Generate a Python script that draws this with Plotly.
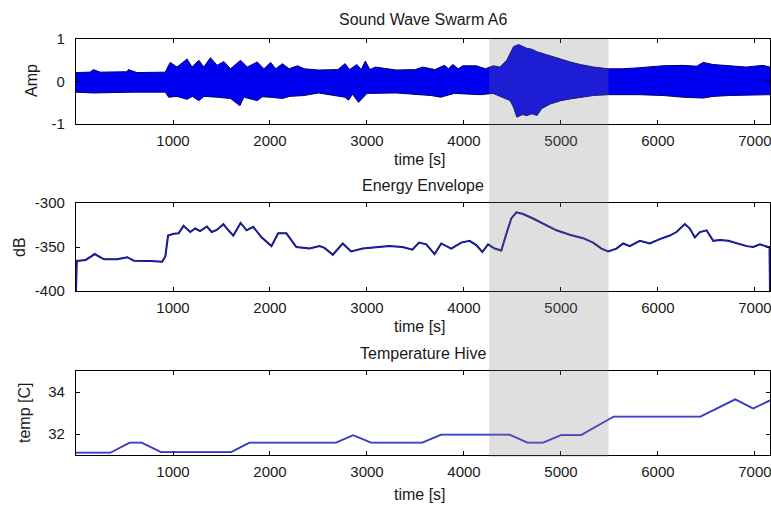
import plotly.graph_objects as go
from plotly.subplots import make_subplots

# ---------------- data ----------------
# Sound wave: upper / lower amplitude envelope
wave_upper_t = [0, 145, 179, 248, 524, 541, 628, 921, 955, 972,
                1041, 1145, 1197, 1266, 1317, 1386, 1455, 1524, 1593, 1697,
                1766, 1869, 1938, 2007, 2059, 2128, 2197, 2283, 2352, 2500,
                2700, 2774, 2820, 2896, 2940, 2983, 3030, 3087, 3300, 3500,
                3573, 3700, 3799, 3840, 3885, 3940, 3990, 4128, 4220, 4302,
                4370, 4441, 4510, 4563, 4649, 4700, 4753, 4890, 5000, 5096,
                5199, 5336, 5490, 5644, 5781, 5918, 6055, 6260, 6400, 6466,
                6568, 6740, 6911, 7082, 7155]
wave_upper = [0.21, 0.22, 0.28, 0.22, 0.23, 0.28, 0.21, 0.22, 0.38, 0.45,
              0.34, 0.53, 0.34, 0.50, 0.34, 0.56, 0.38, 0.47, 0.30, 0.50,
              0.34, 0.46, 0.30, 0.45, 0.30, 0.42, 0.30, 0.37, 0.30, 0.27,
              0.28, 0.42, 0.28, 0.40, 0.28, 0.48, 0.28, 0.34, 0.27, 0.28,
              0.34, 0.28, 0.38, 0.30, 0.40, 0.30, 0.37, 0.37, 0.30, 0.37,
              0.34, 0.50, 0.82, 0.87, 0.78, 0.76, 0.70, 0.60, 0.53, 0.46,
              0.40, 0.34, 0.30, 0.30, 0.32, 0.34, 0.37, 0.38, 0.36, 0.45,
              0.40, 0.37, 0.34, 0.38, 0.34]
wave_lower_t = [0, 179, 600, 921, 955, 1041, 1145, 1200, 1266, 1320,
                1455, 1593, 1690, 1730, 1869, 1920, 2007, 2128, 2200, 2352,
                2500, 2774, 2810, 2850, 2913, 2960, 3000, 3300, 3660, 3760,
                3900, 4170, 4300, 4475, 4510, 4545, 4600, 4650, 4700, 4753,
                4800, 4890, 5000, 5096, 5240, 5336, 5490, 5800, 6055, 6260,
                6466, 6568, 6740, 7155]
wave_lower = [-0.25, -0.27, -0.25, -0.25, -0.37, -0.35, -0.42, -0.35, -0.45, -0.35,
              -0.37, -0.40, -0.57, -0.37, -0.45, -0.36, -0.37, -0.40, -0.35, -0.33,
              -0.27, -0.37, -0.44, -0.30, -0.49, -0.37, -0.28, -0.27, -0.33, -0.37,
              -0.28, -0.31, -0.28, -0.45, -0.60, -0.84, -0.78, -0.80, -0.76, -0.80,
              -0.64, -0.53, -0.45, -0.41, -0.37, -0.33, -0.31, -0.31, -0.33, -0.37,
              -0.39, -0.35, -0.33, -0.31]

# Energy envelope (dB)
energy_t = [0, 8, 100, 193, 289, 426, 528, 597, 768, 888,
            921, 949, 1007, 1058, 1109, 1178, 1229, 1280, 1349, 1400,
            1451, 1520, 1571, 1622, 1697, 1759, 1827, 1913, 2015, 2084,
            2169, 2221, 2272, 2409, 2511, 2562, 2648, 2750, 2836, 2956,
            3092, 3229, 3366, 3468, 3537, 3611, 3697, 3766, 3869, 3972,
            4058, 4127, 4189, 4248, 4316, 4385, 4437, 4488, 4540, 4609,
            4712, 4815, 4953, 5090, 5228, 5331, 5417, 5486, 5572, 5641,
            5710, 5813, 5916, 6019, 6122, 6191, 6277, 6328, 6380, 6432,
            6501, 6570, 6639, 6725, 6811, 6914, 6983, 7051, 7137, 7150,
            7155]
energy_db = [-400, -365.9, -364.7, -358, -364, -364, -361.6, -365.5, -366, -366.7,
             -360.8, -337, -335, -334.5, -326, -333, -329, -332, -326.7, -333,
             -330.6, -324, -331, -337, -322.7, -331, -327, -339, -349, -334.5,
             -334.5, -343, -350, -351.8, -349, -351, -358.8, -346, -355, -351.8,
             -350, -349, -350, -353, -345, -347, -358, -346, -351.8, -345,
             -343, -347.8, -355.7, -347, -351.8, -354, -335, -317.6, -310.6, -312.5,
             -317.6, -323.5, -331, -336, -340, -345, -351.8, -355, -351.8, -346,
             -349, -343, -346, -341, -337, -333, -324, -329, -339, -333,
             -331, -343, -342, -343, -346, -349, -350, -347, -350, -350,
             -400]

# Hive temperature (C)
temp_t = [0, 355, 553, 677, 876, 1599, 1788, 2682, 2857, 3041, 3571,
          3765, 4470, 4654, 4816, 5000, 5207, 5544, 6438, 6797, 6982, 7155]
temp_c = [31.11, 31.11, 31.59, 31.59, 31.14, 31.14, 31.59, 31.59, 31.94, 31.59, 31.59,
          31.97, 31.97, 31.59, 31.59, 31.95, 31.95, 32.83, 32.83, 33.65, 33.21, 33.6]

# Highlighted swarm interval (s)
swarm_start, swarm_end = 4260, 5490

x_ticks = [1000, 2000, 3000, 4000, 5000, 6000, 7000]
x_ticktext = ["1000", "2000", "3000", "4000", "5000", "6000", "7000"]
amp_ticks = [-1, 0, 1]
amp_ticktext = ["-1", "0", "1"]
db_ticks = [-400, -350, -300]
db_ticktext = ["-400", "-350", "-300"]
temp_ticks = [32, 34]
temp_ticktext = ["32", "34"]

titles = ["Sound Wave Swarm A6", "Energy Envelope", "Temperature Hive"]
ylabels = ["Amp", "dB", "temp [C]"]
xlabel = "time [s]"

# ---------------- figure ----------------
W, H = 771, 506
ML, MR = 76, 1
PW = W - ML - MR
FONT = "Liberation Sans, Arial, sans-serif"
TXT = "#1a1a1a"

def fy(py):
    return 1 - py / H

def fx(px):
    return (px - ML) / PW

dom1 = [fy(124), fy(39)]
dom2 = [fy(291), fy(203)]
dom3 = [fy(455), fy(371)]

fig = make_subplots(rows=3, cols=1)

# waveform envelope band
fig.add_trace(go.Scatter(x=wave_lower_t, y=wave_lower, mode="lines",
                         line=dict(color="#000070", width=1),
                         showlegend=False, hoverinfo="skip"), row=1, col=1)
fig.add_trace(go.Scatter(x=wave_upper_t, y=wave_upper, mode="lines",
                         line=dict(color="#000070", width=1),
                         fill="tonexty", fillcolor="#0000f0",
                         showlegend=False, hoverinfo="skip"), row=1, col=1)

# energy envelope
fig.add_trace(go.Scatter(x=energy_t, y=energy_db, mode="lines",
                         line=dict(color="#10104a", width=2.0),
                         showlegend=False), row=2, col=1)
fig.add_trace(go.Scatter(x=energy_t, y=energy_db, mode="lines",
                         line=dict(color="#1e1ee6", width=1.0),
                         showlegend=False), row=2, col=1)

# temperature
fig.add_trace(go.Scatter(x=temp_t, y=temp_c, mode="lines",
                         line=dict(color="#2a2aa8", width=1.8),
                         showlegend=False), row=3, col=1)
fig.add_trace(go.Scatter(x=temp_t, y=temp_c, mode="lines",
                         line=dict(color="#4a4af0", width=0.8),
                         showlegend=False), row=3, col=1)

axis_common = dict(showline=True, linecolor="black", linewidth=1.3,
                   mirror="ticks", ticks="inside", ticklen=4, tickwidth=1.3,
                   tickcolor="black", showgrid=False, zeroline=False,
                   ticklabeloverflow="allow",
                   tickfont=dict(family=FONT, size=15, color=TXT))

for i in range(1, 4):
    fig.update_xaxes(range=[0, 7155], tickvals=x_ticks, ticktext=x_ticktext,
                     domain=[0, 1], ticklabelstandoff=3, row=i, col=1, **axis_common)
fig.update_yaxes(range=[-1, 1], tickvals=amp_ticks, ticktext=amp_ticktext,
                 domain=dom1, ticklabelstandoff=7, row=1, col=1, **axis_common)
fig.update_yaxes(range=[-400, -300], tickvals=db_ticks, ticktext=db_ticktext,
                 domain=dom2, ticklabelstandoff=7, row=2, col=1, **axis_common)
fig.update_yaxes(range=[31, 35], tickvals=temp_ticks, ticktext=temp_ticktext,
                 domain=dom3, ticklabelstandoff=7, row=3, col=1, **axis_common)

# shaded swarm interval across all three panels
fig.add_shape(type="rect", xref="x", yref="paper",
              x0=swarm_start, x1=swarm_end, y0=dom3[0] - 2 / H, y1=dom1[1],
              fillcolor="rgba(120,120,120,0.24)", line=dict(width=0),
              layer="above")

ann = []
for title, ty in zip(titles, [19, 185, 353]):
    ann.append(dict(text=title, x=fx(423), y=fy(ty), xref="paper", yref="paper",
                    showarrow=False, xanchor="center", yanchor="middle",
                    font=dict(family=FONT, size=16, color=TXT)))
for ty in [160, 326, 494]:
    ann.append(dict(text=xlabel, x=fx(420), y=fy(ty), xref="paper", yref="paper",
                    showarrow=False, xanchor="center", yanchor="middle",
                    font=dict(family=FONT, size=16, color=TXT)))
for lab, (lx, ly) in zip(ylabels, [(32, 81), (19, 247), (24, 413)]):
    ann.append(dict(text=lab, x=fx(lx), y=fy(ly), xref="paper", yref="paper",
                    showarrow=False, xanchor="center", yanchor="middle",
                    textangle=-90,
                    font=dict(family=FONT, size=16, color=TXT)))

fig.update_layout(width=W, height=H, annotations=ann, autosize=False,
                  margin=dict(l=ML, r=MR, t=0, b=0, autoexpand=False),
                  paper_bgcolor="white", plot_bgcolor="rgba(0,0,0,0)",
                  showlegend=False)

fig.write_html("out.html", config={"responsive": False, "displayModeBar": False},
               post_script="document.body.style.margin='0';document.body.style.padding='0';")
